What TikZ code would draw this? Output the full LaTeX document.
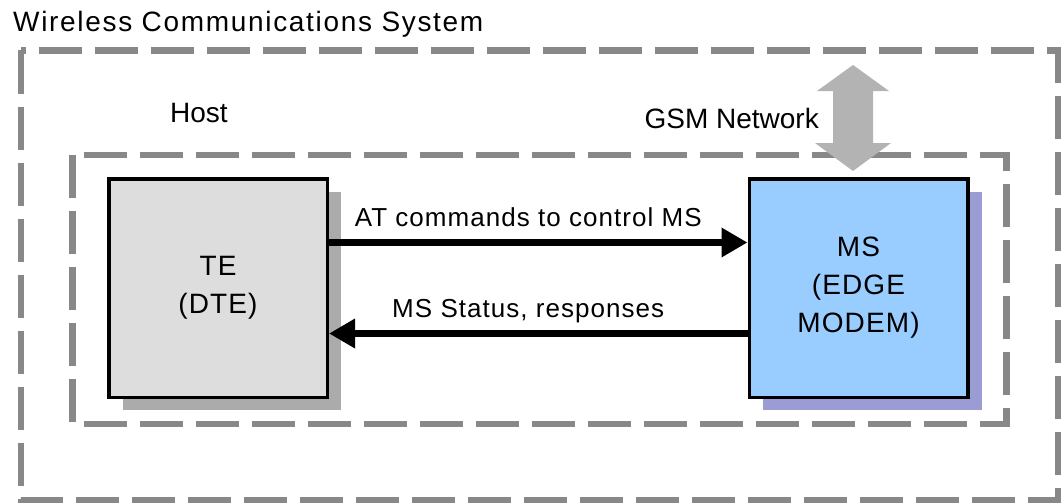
\documentclass[tikz,border=0pt]{standalone}
\usepackage{fontspec}
\setmainfont{Liberation Sans}
\newfontfamily\widefont[LetterSpace=6]{Liberation Sans}
\newfontfamily\boxfont[LetterSpace=4]{Liberation Sans}
\usepackage{xcolor}
\usepackage{tikz}
\usetikzlibrary{arrows.meta}
\usetikzlibrary{positioning}
\usetikzlibrary{shadows}
\definecolor{frameGray}{HTML}{888888}
\definecolor{gsmGray}{HTML}{B3B3B3}
\definecolor{teFill}{HTML}{DDDDDD}
\definecolor{teShade}{HTML}{ABABAB}
\definecolor{msFill}{HTML}{99CCFF}
\definecolor{msShade}{HTML}{9C9CD4}
\newcommand{\bigtxt}{\fontsize{28}{38}\selectfont}
\newcommand{\linktxt}{\fontsize{26}{30}\selectfont}

\begin{document}
\begin{tikzpicture}[x=1pt,y=-1pt,font=\bigtxt,
    frame/.style={draw=frameGray,line width=6.5pt,dash pattern=on 43pt off 13pt},
    unit/.style={draw=black,line width=3.5pt,minimum width=218.5pt,minimum height=218.5pt,
                 align=center,inner sep=0pt,font=\boxfont\bigtxt},
    link/.style={line width=7.5pt,-{Triangle[length=26pt,width=28pt]}},
    linklabel/.style={font=\boxfont\linktxt,anchor=base,inner sep=0pt,yshift=16.5pt,xshift=-10pt}]
  \useasboundingbox (0,0) rectangle (1062,503);
  % frames
  \draw[frame] (21,50.5) rectangle (1058,500);
  \draw[frame] (72.5,155) rectangle (1006.5,424);
  \node[anchor=base west,inner sep=0pt,font=\widefont\bigtxt] (wcs) at (13,32) {Wireless Communications System};
  \node[anchor=base west,inner sep=0pt] (host) at (170,122) {Host};
  % the two units
  \node[unit,fill=teFill,drop shadow={shadow xshift=14pt,shadow yshift=-13pt,fill=teShade,opacity=1}]
    (te) at (218,288) {TE\\(DTE)};
  \node[unit,fill=msFill,drop shadow={shadow xshift=14pt,shadow yshift=-13pt,fill=msShade,opacity=1}]
    (ms) at (858.5,288) {MS\\(EDGE\\MODEM)};
  \path[link]
    ([yshift=45.5pt]te.east) edge node[linklabel] {AT commands to control MS} ([yshift=45.5pt]ms.west)
    ([yshift=-45.5pt]ms.west) edge node[linklabel] {MS Status, responses} ([yshift=-45.5pt]te.east);
  % GSM network link
  \fill[gsmGray] (853,65) -- (889,91) -- (873,91) -- (873,143) -- (891,143) -- (853,171)
    -- (815,143) -- (833,143) -- (833,91) -- (817,91) -- cycle;
  \node[anchor=base east,inner sep=0pt] (gsm) at (819,128) {GSM Network};
\end{tikzpicture}
\end{document}
